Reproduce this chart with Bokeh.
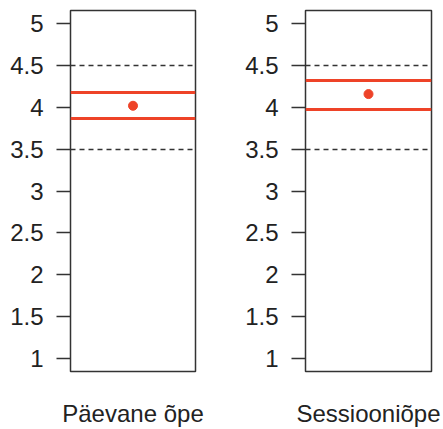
from bokeh.plotting import figure
from bokeh.layouts import row
from bokeh.models import Range1d, FixedTicker
from bokeh.embed import file_html
from bokeh.resources import INLINE

# ---- data ----
groups = ["Päevane õpe", "Sessiooniõpe"]
means = [4.02, 4.16]
lower = [3.87, 3.98]
upper = [4.18, 4.32]
ref_lines = [3.5, 4.5]
y_ticks = [1, 1.5, 2, 2.5, 3, 3.5, 4, 4.5, 5]
y_tick_labels = ["1", "1.5", "2", "2.5", "3", "3.5", "4", "4.5", "5"]

RED = "#EE4328"
DARK = "#333333"
TXT = "#222222"
FONT = "Liberation Sans"

# layout settings (per panel)
borders_left = [70, 85]
borders_right = [25, 12]
frame_w = [125, 126]
label_pos = [0.5, 0.5]

figs = []
for i, g in enumerate(groups):
    w = borders_left[i] + frame_w[i] + borders_right[i]
    p = figure(width=w, height=429, output_backend="svg", toolbar_location=None,
               x_range=Range1d(0, 1), y_range=Range1d(0.84, 5.16),
               min_border_left=borders_left[i], min_border_right=borders_right[i],
               min_border_top=10, min_border_bottom=58)
    p.grid.visible = False
    p.outline_line_color = DARK
    p.outline_line_width = 1.5
    p.background_fill_color = "white"
    p.border_fill_color = "white"

    # reference dashed lines
    p.hspan(y=ref_lines, line_color=DARK, line_width=1.5, line_dash="5 4")
    # interval lines
    p.hspan(y=[lower[i], upper[i]], line_color=RED, line_width=3)
    # mean point
    p.scatter(x=[0.5], y=[means[i]], size=9, fill_color=RED, line_color=RED)

    ya = p.yaxis[0]
    ya.ticker = FixedTicker(ticks=y_ticks)
    ya.major_label_overrides = {t: l for t, l in zip(y_ticks, y_tick_labels)}
    ya.minor_tick_line_color = None
    ya.axis_line_color = None
    ya.major_tick_in = 0
    ya.major_tick_out = 14
    ya.major_tick_line_color = DARK
    ya.major_tick_line_width = 1.3
    ya.major_label_standoff = 13
    ya.major_label_text_font = FONT
    ya.major_label_text_font_size = "24px"
    ya.major_label_text_color = TXT

    xa = p.xaxis[0]
    xa.ticker = FixedTicker(ticks=[label_pos[i]])
    xa.major_label_overrides = {label_pos[i]: g}
    xa.minor_tick_line_color = None
    xa.major_tick_line_color = None
    xa.axis_line_color = None
    xa.major_tick_in = 0
    xa.major_tick_out = 0
    xa.major_label_standoff = 28
    xa.major_label_text_font = FONT
    xa.major_label_text_font_size = "24px"
    xa.major_label_text_color = TXT

    figs.append(p)

layout = row(*figs)
open("out.html", "w").write(file_html(layout, INLINE))
